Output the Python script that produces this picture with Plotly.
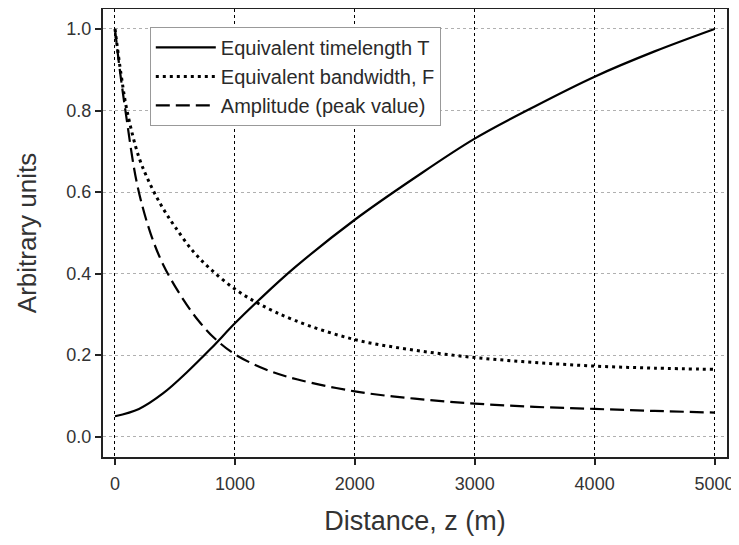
import plotly.graph_objects as go

# Distance values (m) and readings for each curve
z_T = [0, 200, 400, 600, 800, 1000, 1200, 1500, 2000, 2500, 3000, 3500, 4000, 4500, 5000]
T_vals = [0.050, 0.068, 0.106, 0.158, 0.216, 0.278, 0.335, 0.415, 0.532, 0.635, 0.731, 0.810, 0.883, 0.945, 1.000]

z_F = [0, 50, 100, 200, 300, 400, 500, 650, 800, 1000, 1200, 1500, 2000, 2500, 3000, 3500, 4000, 4500, 5000]
F_vals = [1.0, 0.89, 0.80, 0.685, 0.615, 0.56, 0.515, 0.455, 0.41, 0.362, 0.326, 0.285, 0.238, 0.212, 0.194, 0.182, 0.173, 0.168, 0.165]

z_A = [0, 40, 87, 184, 295, 405, 570, 700, 835, 1000, 1263, 1524, 2000, 2500, 3000, 3500, 4000, 4500, 5000]
A_vals = [1.0, 0.90, 0.80, 0.62, 0.50, 0.42, 0.336, 0.283, 0.24, 0.202, 0.164, 0.14, 0.111, 0.093, 0.081, 0.073, 0.068, 0.063, 0.059]

x_ticks = [0, 1000, 2000, 3000, 4000, 5000]
y_ticks = [0.0, 0.2, 0.4, 0.6, 0.8, 1.0]

fig = go.Figure()
fig.add_trace(go.Scatter(x=z_T, y=T_vals, mode="lines", name="Equivalent timelength T",
                         line=dict(color="black", width=2.2, shape="spline", smoothing=1)))
fig.add_trace(go.Scatter(x=z_F, y=F_vals, mode="lines", name="Equivalent bandwidth, F",
                         line=dict(color="black", width=3, dash="3px,4px", shape="spline", smoothing=1)))
fig.add_trace(go.Scatter(x=z_A, y=A_vals, mode="lines", name="Amplitude (peak value)",
                         line=dict(color="black", width=2.2, dash="14px,6px", shape="spline", smoothing=1)))

# page body has an 8px margin, so the figure is sized to fit the 739x545 window
fig.update_layout(
    width=731, height=537,
    margin=dict(l=95, r=12, t=1, b=88),
    paper_bgcolor="white", plot_bgcolor="white",
    font=dict(family="Liberation Sans, Arial, sans-serif", color="#333333"),
    showlegend=True,
    legend=dict(x=0.075, y=0.96, xanchor="left", yanchor="top",
                bordercolor="#999999", borderwidth=1, bgcolor="white",
                font=dict(size=20, color="#2a2a2a"), tracegroupgap=0,
                itemwidth=60),
    xaxis=dict(range=[-100, 5104], tickvals=x_ticks, ticktext=[str(v) for v in x_ticks],
               showgrid=True, gridcolor="black", griddash="dot", gridwidth=1.2,
               showline=True, linecolor="#222222", linewidth=2, mirror=True,
               ticks="outside", ticklen=6, tickcolor="#222222", tickwidth=1.5,
               tickfont=dict(size=18), zeroline=False, automargin=False,
               ticklabelstandoff=3,
               title=dict(text="Distance, z (m)", font=dict(size=27), standoff=19)),
    yaxis=dict(range=[-0.050, 1.049], tickvals=y_ticks, ticktext=[f"{v:.1f}" for v in y_ticks],
               showgrid=True, gridcolor="#b0b0b0", griddash="dot", gridwidth=1,
               showline=True, linecolor="#222222", linewidth=2, mirror=True,
               ticks="outside", ticklen=6, tickcolor="#222222", tickwidth=1.5,
               tickfont=dict(size=18), zeroline=False, automargin=False,
               title=dict(text="Arbitrary units", font=dict(size=26), standoff=22)),
)

fig.write_html("out.html")
